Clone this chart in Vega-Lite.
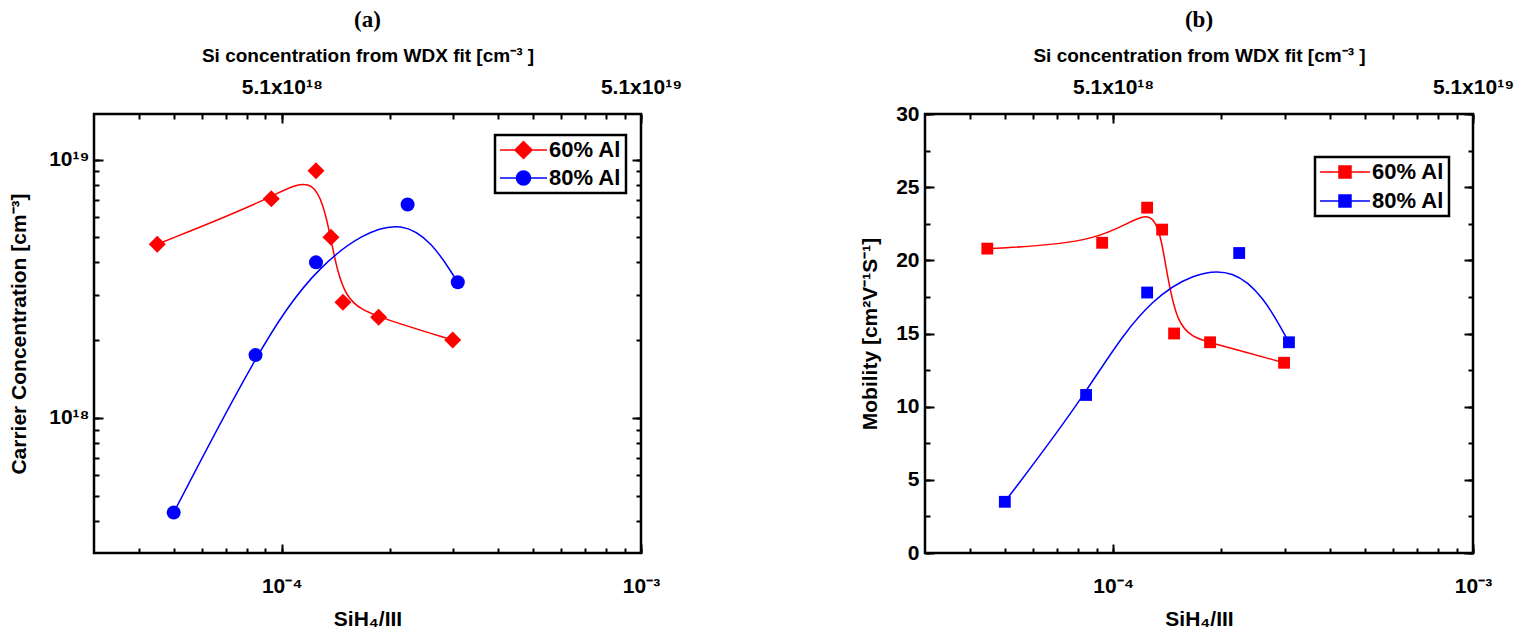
{
  "$schema": "https://vega.github.io/schema/vega-lite/v6.json",
  "background": "white",
  "padding": {"left": 7, "top": 7, "right": 5, "bottom": 5},
  "spacing": 284,
  "bounds": "flush",
  "resolve": {"scale": {"color": "independent"}, "legend": {"color": "independent"}},
  "config": {
    "font": "Liberation Sans",
    "view": {"stroke": "black", "strokeWidth": 2.5},
    "axis": {"domain": false, "grid": false, "labelFont": "Liberation Sans", "labelFontWeight": "bold", "labelFontSize": 21, "labelColor": "black", "titleFont": "Liberation Sans", "titleFontWeight": "bold", "titleFontSize": 21, "titleColor": "black", "tickColor": "black", "tickWidth": 2, "tickSize": -5, "labelOverlap": false, "labelFlush": false},
    "title": {"font": "Liberation Serif", "fontSize": 23, "fontWeight": "bold", "color": "black", "anchor": "middle"}
  },
  "hconcat": [
    {
      "title": {"text": "(a)", "offset": 14},
      "width": 547,
      "height": 439,
      "data": {"values": [
        {"x": 4.5e-5, "y": 4.7e18, "series": "60% Al"},
        {"x": 9.35e-5, "y": 7.05e18, "series": "60% Al"},
        {"x": 1.245e-4, "y": 9.05e18, "series": "60% Al"},
        {"x": 1.37e-4, "y": 5.0e18, "series": "60% Al"},
        {"x": 1.48e-4, "y": 2.8e18, "series": "60% Al"},
        {"x": 1.86e-4, "y": 2.45e18, "series": "60% Al"},
        {"x": 2.99e-4, "y": 2.0e18, "series": "60% Al"},
        {"x": 5.0e-5, "y": 4.3e17, "series": "80% Al"},
        {"x": 8.45e-5, "y": 1.75e18, "series": "80% Al"},
        {"x": 1.245e-4, "y": 4.0e18, "series": "80% Al"},
        {"x": 2.24e-4, "y": 6.7e18, "series": "80% Al"},
        {"x": 3.09e-4, "y": 3.35e18, "series": "80% Al"}
      ]},
      "layer": [
        {
          "mark": {"type": "line", "interpolate": "basis", "strokeWidth": 1.5},
          "encoding": {
            "x": {"field": "x", "type": "quantitative",
              "scale": {"type": "log", "domain": [3e-5, 1e-3], "nice": false},
              "axis": {"orient": "bottom", "title": "SiH₄/III", "titlePadding": 12,
                "values": [4e-5, 5e-5, 6e-5, 7e-5, 8e-5, 9e-5, 1e-4, 2e-4, 3e-4, 4e-4, 5e-4, 6e-4, 7e-4, 8e-4, 9e-4, 1e-3],
                "labelExpr": "abs(log(datum.value)/LN10 + 4) < 0.01 ? '10⁻⁴' : (abs(log(datum.value)/LN10 + 3) < 0.01 ? '10⁻³' : '')",
                "labelPadding": 27}},
            "y": {"field": "y", "type": "quantitative",
              "scale": {"type": "log", "domain": [3e17, 1.5e19], "nice": false},
              "axis": {"orient": "left", "title": "Carrier Concentration [cm⁻³]", "titlePadding": 19,
                "values": [4e17, 5e17, 6e17, 7e17, 8e17, 9e17, 1e18, 2e18, 3e18, 4e18, 5e18, 6e18, 7e18, 8e18, 9e18, 1e19],
                "labelExpr": "abs(log(datum.value)/LN10 - 18) < 0.01 ? '10¹⁸' : (abs(log(datum.value)/LN10 - 19) < 0.01 ? '10¹⁹' : '')",
                "labelPadding": 10}},
            "color": {"field": "series", "type": "nominal", "scale": {"domain": ["60% Al", "80% Al"], "range": ["#ff0000", "#0000ff"]},
              "legend": {"title": null, "orient": "none", "legendX": 401, "legendY": 21,
                "strokeColor": "black", "fillColor": "white", "padding": 4,
                "labelFont": "Liberation Sans", "labelFontSize": 22, "labelFontWeight": "bold", "labelColor": "black",
                "symbolSize": 400, "labelOffset": 28, "rowPadding": 5,
                "encode": {
                  "legend": {"update": {"strokeWidth": {"value": 2.5}, "stroke": {"value": "black"}}},
                  "symbols": {"update": {
                  "shape": {"signal": "datum.value === '60% Al' ? 'M-1,0L0.5,0M0.5,0L1.35,-0.85L2.2,0L1.35,0.85ZM2.2,0L3.7,0' : 'M-1,0L0.65,0M0.65,0A0.7,0.7,0,1,1,2.05,0A0.7,0.7,0,1,1,0.65,0ZM2.05,0L3.7,0'"},
                  "fill": {"signal": "datum.value === '60% Al' ? '#ff0000' : '#0000ff'"},
                  "stroke": {"signal": "datum.value === '60% Al' ? '#ff0000' : '#0000ff'"},
                  "strokeWidth": {"value": 1.5},
                  "opacity": {"value": 1}
                }}}}}
          }
        },
        {
          "transform": [{"filter": "datum.series === '60% Al'"}],
          "mark": {"type": "point", "filled": true, "opacity": 1, "shape": "diamond", "size": 289},
          "encoding": {
            "x": {"field": "x", "type": "quantitative",
              "axis": {"orient": "top", "title": "Si concentration from WDX fit [cm⁻³ ]", "titleFontSize": 19, "titlePadding": 11,
                "values": [4e-5, 5e-5, 6e-5, 7e-5, 8e-5, 9e-5, 1e-4, 2e-4, 3e-4, 4e-4, 5e-4, 6e-4, 7e-4, 8e-4, 9e-4, 1e-3],
                "labelExpr": "abs(log(datum.value)/LN10 + 4) < 0.01 ? '5.1x10¹⁸' : (abs(log(datum.value)/LN10 + 3) < 0.01 ? '5.1x10¹⁹' : '')",
                "labelPadding": 22}},
            "y": {"field": "y", "type": "quantitative",
              "axis": {"orient": "right", "title": null, "labels": false,
                "values": [4e17, 5e17, 6e17, 7e17, 8e17, 9e17, 1e18, 2e18, 3e18, 4e18, 5e18, 6e18, 7e18, 8e18, 9e18, 1e19]}},
            "color": {"field": "series", "type": "nominal"}
          }
        },
        {
          "transform": [{"filter": "datum.series === '80% Al'"}],
          "mark": {"type": "point", "filled": true, "opacity": 1, "shape": "circle", "size": 196},
          "encoding": {
            "x": {"field": "x", "type": "quantitative",
              "axis": {"orient": "bottom", "title": null, "labels": false, "tickSize": -9, "values": [1e-4, 1e-3]}},
            "y": {"field": "y", "type": "quantitative",
              "axis": {"orient": "left", "title": null, "labels": false, "tickSize": -9, "values": [1e18, 1e19]}},
            "color": {"field": "series", "type": "nominal"}
          }
        },
        {
          "mark": {"type": "point", "opacity": 0},
          "encoding": {
            "x": {"field": "x", "type": "quantitative",
              "axis": {"orient": "top", "title": null, "labels": false, "tickSize": -9, "values": [1e-4, 1e-3]}},
            "y": {"field": "y", "type": "quantitative",
              "axis": {"orient": "right", "title": null, "labels": false, "tickSize": -9, "values": [1e18, 1e19]}}
          }
        }
      ],
      "resolve": {"axis": {"x": "independent", "y": "independent"}}
    },
    {
      "title": {"text": "(b)", "offset": 14},
      "width": 548,
      "height": 439,
      "data": {"values": [
        {"x": 4.47e-5, "y": 20.8, "series": "60% Al"},
        {"x": 9.32e-5, "y": 21.2, "series": "60% Al"},
        {"x": 1.243e-4, "y": 23.6, "series": "60% Al"},
        {"x": 1.368e-4, "y": 22.1, "series": "60% Al"},
        {"x": 1.477e-4, "y": 15.0, "series": "60% Al"},
        {"x": 1.859e-4, "y": 14.4, "series": "60% Al"},
        {"x": 2.985e-4, "y": 13.0, "series": "60% Al"},
        {"x": 5.0e-5, "y": 3.5, "series": "80% Al"},
        {"x": 8.41e-5, "y": 10.8, "series": "80% Al"},
        {"x": 1.243e-4, "y": 17.8, "series": "80% Al"},
        {"x": 2.24e-4, "y": 20.5, "series": "80% Al"},
        {"x": 3.08e-4, "y": 14.4, "series": "80% Al"}
      ]},
      "layer": [
        {
          "mark": {"type": "line", "interpolate": "basis", "strokeWidth": 1.5},
          "encoding": {
            "x": {"field": "x", "type": "quantitative",
              "scale": {"type": "log", "domain": [3e-5, 1e-3], "nice": false},
              "axis": {"orient": "bottom", "title": "SiH₄/III", "titlePadding": 12,
                "values": [4e-5, 5e-5, 6e-5, 7e-5, 8e-5, 9e-5, 1e-4, 2e-4, 3e-4, 4e-4, 5e-4, 6e-4, 7e-4, 8e-4, 9e-4, 1e-3],
                "labelExpr": "abs(log(datum.value)/LN10 + 4) < 0.01 ? '10⁻⁴' : (abs(log(datum.value)/LN10 + 3) < 0.01 ? '10⁻³' : '')",
                "labelPadding": 27}},
            "y": {"field": "y", "type": "quantitative",
              "scale": {"type": "linear", "domain": [0, 30], "nice": false},
              "axis": {"orient": "left", "title": "Mobility [cm²V⁻¹S⁻¹]", "titlePadding": 15,
                "values": [0, 2.5, 5, 7.5, 10, 12.5, 15, 17.5, 20, 22.5, 25, 27.5, 30],
                "labelExpr": "datum.value % 5 == 0 ? datum.value : ''",
                "labelPadding": 11}},
            "color": {"field": "series", "type": "nominal", "scale": {"domain": ["60% Al", "80% Al"], "range": ["#ff0000", "#0000ff"]},
              "legend": {"title": null, "orient": "none", "legendX": 390, "legendY": 43,
                "strokeColor": "black", "fillColor": "white", "padding": 4,
                "labelFont": "Liberation Sans", "labelFontSize": 22, "labelFontWeight": "bold", "labelColor": "black",
                "symbolSize": 400, "labelOffset": 31, "rowPadding": 7,
                "encode": {
                  "legend": {"update": {"strokeWidth": {"value": 2.5}, "stroke": {"value": "black"}}},
                  "symbols": {"update": {
                  "shape": {"value": "M-1,0L0.9,0M0.9,-0.6L2.1,-0.6L2.1,0.6L0.9,0.6ZM2.1,0L4,0"},
                  "fill": {"signal": "datum.value === '60% Al' ? '#ff0000' : '#0000ff'"},
                  "stroke": {"signal": "datum.value === '60% Al' ? '#ff0000' : '#0000ff'"},
                  "strokeWidth": {"value": 1.5},
                  "opacity": {"value": 1}
                }}}}}
          }
        },
        {
          "mark": {"type": "point", "filled": true, "opacity": 1, "shape": "square", "size": 140},
          "encoding": {
            "x": {"field": "x", "type": "quantitative",
              "axis": {"orient": "top", "title": "Si concentration from WDX fit [cm⁻³ ]", "titleFontSize": 19, "titlePadding": 11,
                "values": [4e-5, 5e-5, 6e-5, 7e-5, 8e-5, 9e-5, 1e-4, 2e-4, 3e-4, 4e-4, 5e-4, 6e-4, 7e-4, 8e-4, 9e-4, 1e-3],
                "labelExpr": "abs(log(datum.value)/LN10 + 4) < 0.01 ? '5.1x10¹⁸' : (abs(log(datum.value)/LN10 + 3) < 0.01 ? '5.1x10¹⁹' : '')",
                "labelPadding": 22}},
            "y": {"field": "y", "type": "quantitative",
              "axis": {"orient": "right", "title": null, "labels": false,
                "values": [0, 2.5, 5, 7.5, 10, 12.5, 15, 17.5, 20, 22.5, 25, 27.5, 30]}},
            "color": {"field": "series", "type": "nominal"}
          }
        },
        {
          "mark": {"type": "point", "opacity": 0},
          "encoding": {
            "x": {"field": "x", "type": "quantitative",
              "axis": {"orient": "bottom", "title": null, "labels": false, "tickSize": -9, "values": [1e-4, 1e-3]}},
            "y": {"field": "y", "type": "quantitative",
              "axis": {"orient": "left", "title": null, "labels": false, "tickSize": -9, "values": [0, 5, 10, 15, 20, 25, 30]}}
          }
        },
        {
          "mark": {"type": "point", "opacity": 0},
          "encoding": {
            "x": {"field": "x", "type": "quantitative",
              "axis": {"orient": "top", "title": null, "labels": false, "tickSize": -9, "values": [1e-4, 1e-3]}},
            "y": {"field": "y", "type": "quantitative",
              "axis": {"orient": "right", "title": null, "labels": false, "tickSize": -9, "values": [0, 5, 10, 15, 20, 25, 30]}}
          }
        }
      ],
      "resolve": {"axis": {"x": "independent", "y": "independent"}}
    }
  ]
}
